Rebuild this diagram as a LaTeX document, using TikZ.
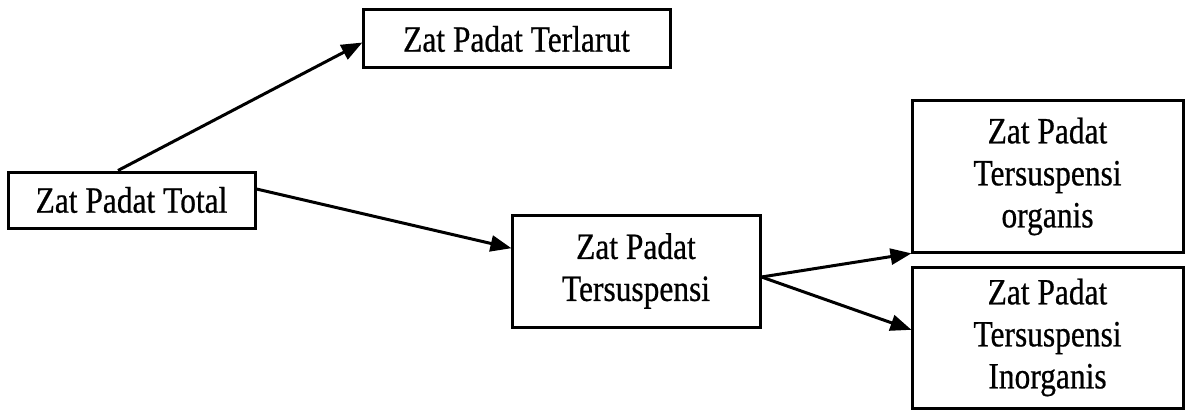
\documentclass[tikz,border=0pt]{standalone}
\usepackage{fontspec}
\setmainfont{Liberation Serif}[FakeStretch=0.85,FakeBold=0.6]
\usetikzlibrary{arrows.meta}
\tikzset{
  box/.style={draw=black, line width=3pt, inner sep=0pt, align=center,
    font=\fontsize{37}{42}\selectfont},
  link/.style={line width=3pt, -{Triangle[length=21pt,width=16pt]}, shorten >=-1pt}
}
\begin{document}
\begin{tikzpicture}[x=1pt,y=-1pt]
\useasboundingbox (0,0) rectangle (1187,412);
\node[box, minimum width=247pt, minimum height=56pt]  (total)    at (131.5,200)  {Zat Padat Total};
\node[box, minimum width=307pt, minimum height=58pt]  (terlarut) at (516.5,39)   {Zat Padat Terlarut};
\node[box, minimum width=248pt, minimum height=112pt] (susp)     at (636,271)    {Zat Padat\\Tersuspensi};
\node[box, minimum width=271pt, minimum height=151pt] (org)      at (1047.5,176.5) {Zat Padat\\Tersuspensi\\organis};
\node[box, minimum width=271pt, minimum height=141pt] (inorg)    at (1047.5,337.5) {Zat Padat\\Tersuspensi\\Inorganis};
\draw[link] ([xshift=-13.5pt]total.north) -- ([yshift=-4pt]terlarut.west);
\draw[link] ([yshift=11pt]total.east) -- ([yshift=23pt]susp.west);
\draw[link] ([yshift=-6pt]susp.east) -- (org.south west);
\draw[link] ([yshift=-6pt]susp.east) -- ([yshift=8pt]inorg.west);
\end{tikzpicture}
\end{document}
